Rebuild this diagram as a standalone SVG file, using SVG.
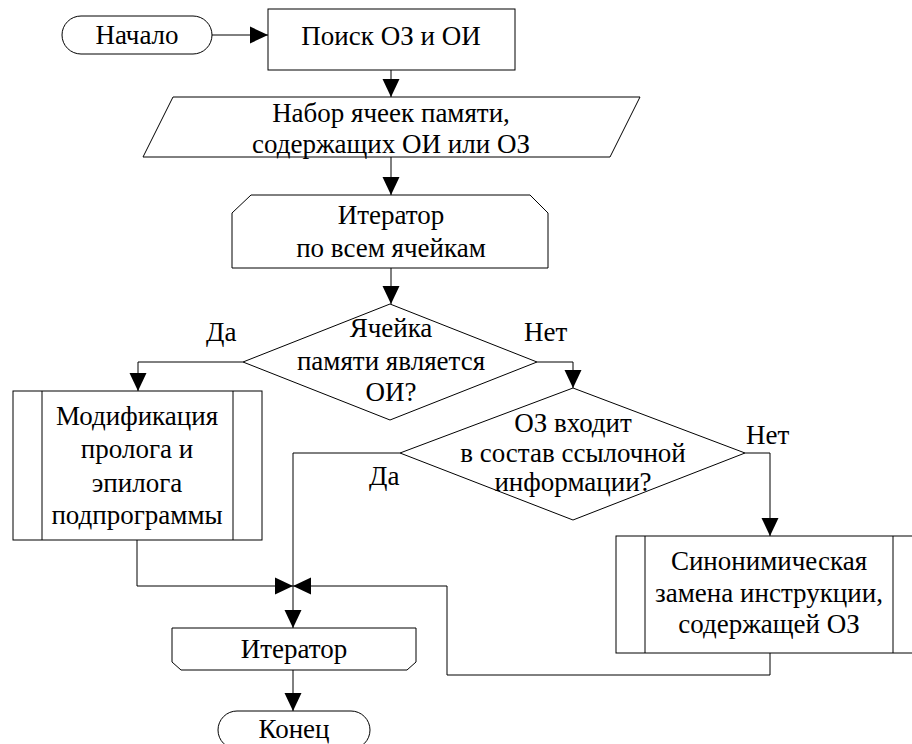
<svg xmlns="http://www.w3.org/2000/svg" width="912" height="744" viewBox="0 0 912 744">
  <style>
    .shape { fill: #fff; stroke: #000; stroke-width: 1; }
    .line { fill: none; stroke: #000; stroke-width: 1; }
    text { font-family: "Liberation Serif", "Times New Roman", serif; font-size: 27px; fill: #000; text-anchor: middle; }
    text.lbl { text-anchor: start; }
  </style>
  <defs>
    <marker id="arrow" viewBox="0 0 18 18" refX="18" refY="9" markerWidth="18" markerHeight="18" markerUnits="userSpaceOnUse" orient="auto">
      <path d="M0,0.5 L18,9 L0,17.5 Z" fill="#000"/>
    </marker>
  </defs>
  <rect width="912" height="744" fill="#fff"/>

  <!-- connectors and branch labels -->
  <g id="connectors">
    <path class="line" d="M212,35 H268" marker-end="url(#arrow)"/>
    <path class="line" d="M391,70 V97" marker-end="url(#arrow)"/>
    <path class="line" d="M391,157 V195" marker-end="url(#arrow)"/>
    <path class="line" d="M391,268 V304" marker-end="url(#arrow)"/>
    <path class="line" d="M243,362 H138 V391" marker-end="url(#arrow)"/>
    <path class="line" d="M537,362 H573 V388" marker-end="url(#arrow)"/>
    <path class="line" d="M745,453 H770 V536" marker-end="url(#arrow)"/>
    <path class="line" d="M400,453 H293 V628" marker-end="url(#arrow)"/>
    <path class="line" d="M137,540 V586 H293" marker-end="url(#arrow)"/>
    <path class="line" d="M770,653 V675 H447 V586 H293" marker-end="url(#arrow)"/>
    <path class="line" d="M293,670 V711" marker-end="url(#arrow)"/>
    <text class="lbl" x="206" y="341">Да</text>
    <text class="lbl" x="524" y="341">Нет</text>
    <text class="lbl" x="746" y="444">Нет</text>
    <text class="lbl" x="369" y="485">Да</text>
  </g>

  <g id="start">
    <rect class="shape" x="62" y="16" width="150" height="38" rx="19" ry="19"/>
    <text x="137" y="44">Начало</text>
  </g>

  <g id="search">
    <rect class="shape" x="268" y="9" width="247" height="61"/>
    <text x="391" y="45">Поиск ОЗ и ОИ</text>
  </g>

  <g id="cells">
    <polygon class="shape" points="173,97 640,97 610,157 143,157"/>
    <text x="391" y="122">Набор ячеек памяти,</text>
    <text x="391" y="153">содержащих ОИ или ОЗ</text>
  </g>

  <g id="loop-start">
    <polygon class="shape" points="251,195 530,195 548,213 548,268 232,268 232,213"/>
    <text x="391" y="224">Итератор</text>
    <text x="391" y="257">по всем ячейкам</text>
  </g>

  <g id="is-oi">
    <polygon class="shape" points="390,304 537,362 390,420 243,362"/>
    <text x="391" y="337">Ячейка</text>
    <text x="391" y="370">памяти является</text>
    <text x="391" y="401">ОИ?</text>
  </g>

  <g id="modify">
    <rect class="shape" x="13" y="391" width="249" height="149"/>
    <line class="line" x1="42" y1="391" x2="42" y2="540"/>
    <line class="line" x1="233" y1="391" x2="233" y2="540"/>
    <text x="137" y="425">Модификация</text>
    <text x="137" y="458">пролога и</text>
    <text x="137" y="492">эпилога</text>
    <text x="137" y="524">подпрограммы</text>
  </g>

  <g id="in-ref">
    <polygon class="shape" points="573,388 745,453 573,520 400,453"/>
    <text x="573" y="432">ОЗ входит</text>
    <text x="573" y="462">в состав ссылочной</text>
    <text x="573" y="491">информации?</text>
  </g>

  <g id="replace">
    <rect class="shape" x="616" y="536" width="308" height="117"/>
    <line class="line" x1="645" y1="536" x2="645" y2="653"/>
    <line class="line" x1="893" y1="536" x2="893" y2="653"/>
    <text x="769" y="570">Синонимическая</text>
    <text x="769" y="602">замена инструкции,</text>
    <text x="769" y="633">содержащей ОЗ</text>
  </g>

  <g id="loop-end">
    <polygon class="shape" points="172,628 416,628 416,662 407,670 181,670 172,662"/>
    <text x="294" y="658">Итератор</text>
  </g>

  <g id="end">
    <rect class="shape" x="218" y="711" width="152" height="38" rx="19" ry="19"/>
    <text x="294" y="738">Конец</text>
  </g>
</svg>
